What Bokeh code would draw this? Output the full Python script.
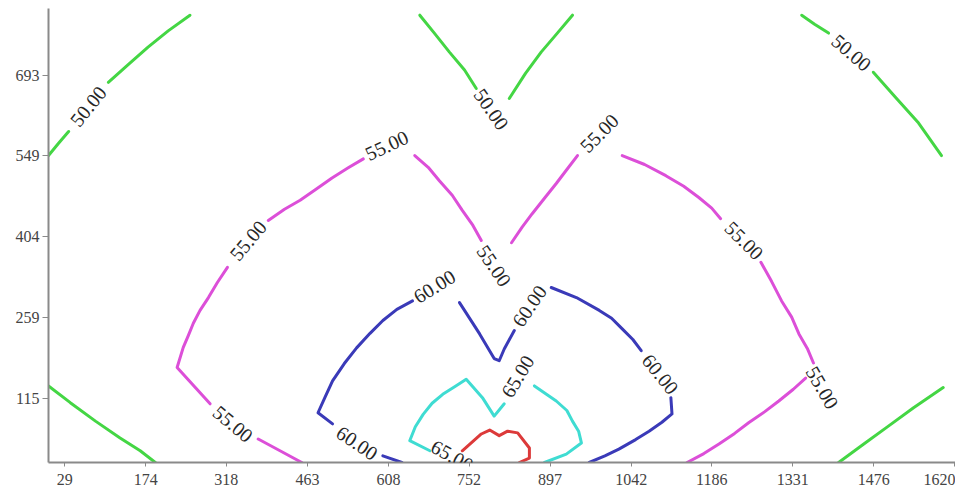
from bokeh.plotting import figure
from bokeh.models import FixedTicker, ColumnDataSource, LabelSet, Range1d
from bokeh.embed import file_html
from bokeh.resources import INLINE

# ---- axis ticks ----
x_ticks = [29, 174, 318, 463, 608, 752, 897, 1042, 1186, 1331, 1476, 1620]
y_ticks = [115, 259, 404, 549, 693]

# ---- contour level 50 (segments between labels) ----
c50_x = [[0, 18, 36],
         [107, 143, 178, 214, 253],
         [664, 690, 717, 744, 765],
         [937, 910, 881, 853, 824],
         [1347, 1370, 1395],
         [1475, 1515, 1556, 1597],
         [0, 39, 84, 128, 164, 191],
         [1413, 1458, 1502, 1547, 1600]]
c50_y = [[549, 571, 592],
         [680, 712, 743, 772, 800],
         [800, 768, 734, 702, 669],
         [800, 768, 734, 696, 651],
         [800, 784, 768],
         [698, 653, 607, 549],
         [137, 107, 74, 44, 21, 0],
         [0, 33, 65, 98, 134]]

# ---- contour level 55 ----
c55_x = [[453, 414, 375],
         [289, 230, 241, 250, 259, 271, 286, 302, 320],
         [393, 422, 450, 479, 507, 536, 563],
         [655, 679, 699, 722, 740, 759, 774],
         [828, 847, 865, 888, 908, 927, 946],
         [1026, 1066, 1104, 1136, 1163, 1186, 1202],
         [1274, 1293, 1311, 1329, 1342, 1357, 1368],
         [1354, 1332, 1306, 1281, 1252, 1227, 1199, 1172, 1142]]
c55_y = [[0, 21, 42],
         [105, 170, 206, 227, 249, 272, 295, 322, 349],
         [433, 453, 469, 489, 509, 527, 543],
         [549, 528, 504, 478, 451, 424, 397],
         [393, 421, 445, 474, 499, 524, 549],
         [549, 533, 513, 494, 474, 455, 436],
         [358, 324, 289, 260, 230, 204, 178],
         [151, 131, 110, 91, 71, 52, 33, 16, 0]]

# ---- contour level 60 ----
c60_x = [[632, 598],
         [508, 482, 495, 508, 529, 551, 575, 598, 623, 651],
         [735, 771, 797, 806, 815, 833],
         [899, 944, 985, 1007, 1026, 1045, 1060],
         [1113, 1115, 1097, 1074, 1050, 1020, 995, 967]]
c60_y = [[0, 12],
         [69, 89, 118, 146, 177, 205, 231, 254, 274, 289],
         [286, 230, 186, 182, 203, 236],
         [313, 295, 272, 258, 239, 220, 200],
         [116, 87, 72, 56, 41, 24, 12, 0]]

# ---- contour level 65 ----
c65_x = [[682, 646, 656, 670, 686, 705, 727, 747, 776, 797, 815],
         [869, 908, 927, 937, 948, 953, 926, 887]]
c65_y = [[21, 39, 64, 86, 106, 122, 136, 149, 116, 83, 105],
         [137, 110, 93, 74, 56, 35, 15, 0]]

# ---- contour level 70 ----
c70_x = [[740, 774, 789, 806, 821, 839, 860, 860, 842]]
c70_y = [[21, 51, 58, 48, 56, 53, 26, 8, 0]]

# ---- contour labels ----
label_text = ["50.00", "50.00", "50.00",
              "55.00", "55.00", "55.00", "55.00", "55.00", "55.00", "55.00",
              "60.00", "60.00", "60.00", "60.00",
              "65.00", "65.00"]
label_x = [71, 792, 1436,
           330, 357, 605, 797, 985, 1244, 1384,
           552, 690, 860, 1094,
           722, 839]
label_y = [637, 632, 733,
           69, 397, 567, 352, 589, 397, 134,
           35, 315, 280, 158,
           12, 154]
label_angle = [51, -55, -41,
               -40, 50, 25, -56, 45, -45, -60,
               -34, 32, 56, -51,
               -29, 59]

p = figure(width=955, height=490, output_backend="svg", toolbar_location=None,
           x_range=Range1d(0, 1622), y_range=Range1d(0, 812),
           min_border_left=48, min_border_right=0, min_border_top=8,
           min_border_bottom=28)
p.outline_line_color = None
p.grid.visible = False
p.background_fill_color = "white"
p.border_fill_color = "white"

levels = [(c50_x, c50_y, "#44d644"),
          (c55_x, c55_y, "#dc4fd8"),
          (c60_x, c60_y, "#3a3ab8"),
          (c65_x, c65_y, "#3fdcd2"),
          (c70_x, c70_y, "#dc3a3a")]
for xs, ys, col in levels:
    p.multi_line(xs=xs, ys=ys, line_color=col, line_width=3,
                 line_cap="round", line_join="round")

src = ColumnDataSource(dict(x=label_x, y=label_y, text=label_text, angle=label_angle))
labels = LabelSet(x="x", y="y", text="text", angle="angle", angle_units="deg",
                  source=src, text_align="center", text_baseline="middle",
                  text_font="Liberation Serif", text_font_size="20px",
                  text_color="#262626", level="overlay")
p.add_layout(labels)

p.xaxis.ticker = FixedTicker(ticks=x_ticks)
p.yaxis.ticker = FixedTicker(ticks=y_ticks)
for ax in (p.xaxis, p.yaxis):
    ax.axis_line_color = "#8a8a8a"
    ax.axis_line_width = 2
    ax.major_tick_line_color = "#8a8a8a"
    ax.major_tick_in = 0
    ax.minor_tick_line_color = None
    ax.major_label_text_font = "Liberation Serif"
    ax.major_label_text_font_size = "16px"
    ax.major_label_text_color = "#444444"
p.xaxis.major_tick_out = 4
p.xaxis.major_label_standoff = 7
p.yaxis.major_tick_out = 6
p.yaxis.major_label_standoff = 3

open("out.html", "w").write(file_html(p, INLINE))
